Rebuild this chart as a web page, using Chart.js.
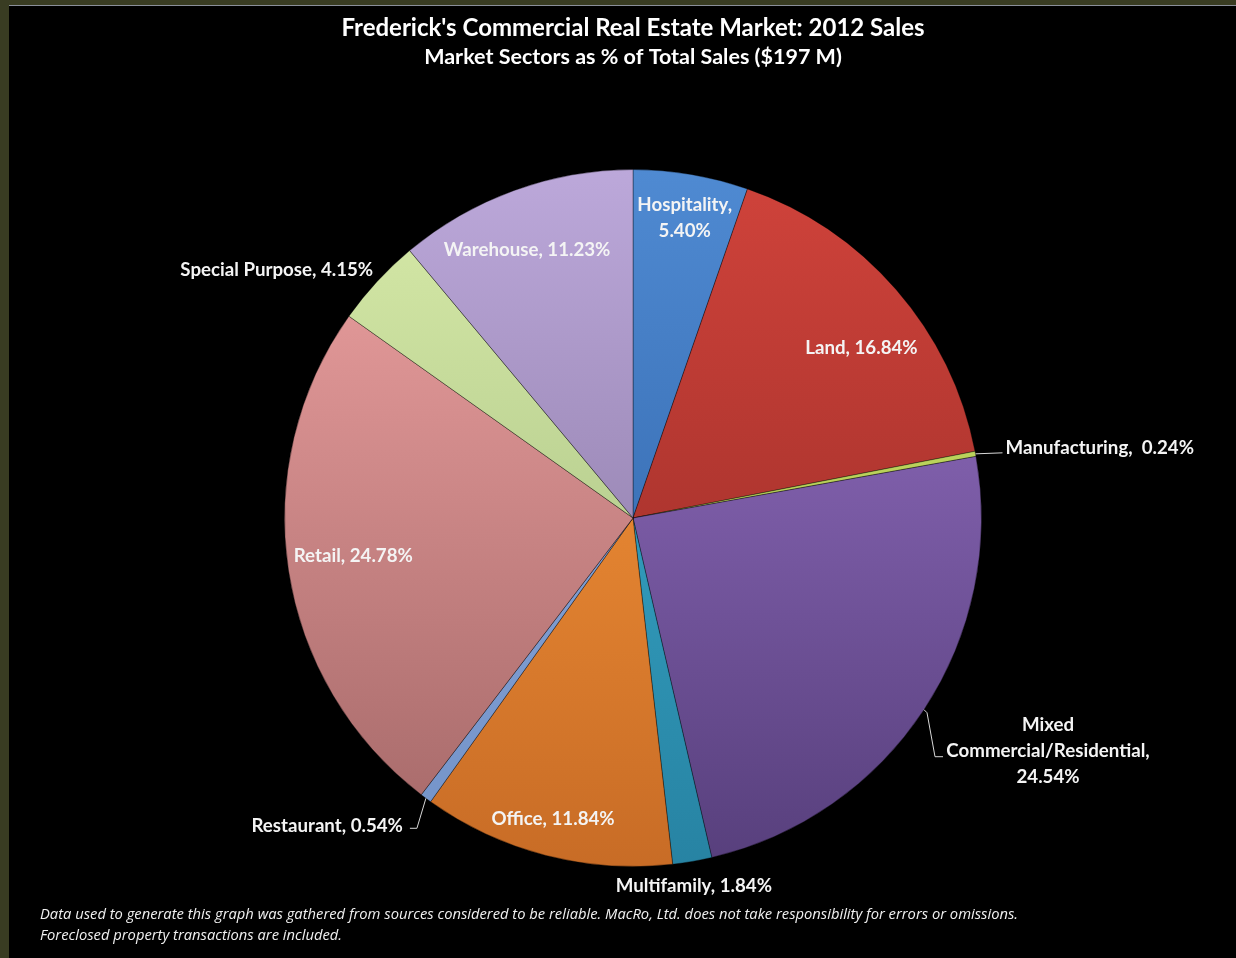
<!DOCTYPE html>
<html lang="en">
<head>
<meta charset="UTF-8">
<title>Frederick's Commercial Real Estate Market: 2012 Sales</title>
<script src="https://cdn.jsdelivr.net/npm/chart.js"></script>
<style>
  html, body { margin: 0; padding: 0; background: #393c22; }
  .frame {
    position: absolute; left: 9px; top: 5px; width: 1227px; height: 953px;
    background: #000; border-top: 1px solid #8a8f99; box-sizing: border-box;
  }
  .frame canvas { display: block; }
</style>
</head>
<body>
<div class="frame">
  <canvas id="pieCanvas" width="1227" height="952"></canvas>
</div>

<script>
// market sectors, clockwise from 12 o'clock
const sectors = ['Hospitality', 'Land', 'Manufacturing', 'Mixed Commercial/Residential', 'Multifamily',
                 'Office', 'Restaurant', 'Retail', 'Special Purpose', 'Warehouse'];
// share of total sales (%)
const sharePct = [5.40, 16.84, 0.24, 24.54, 1.84, 11.84, 0.54, 24.78, 4.15, 11.23];

const titleText = "Frederick's Commercial Real Estate Market: 2012 Sales";
const subtitleText = 'Market Sectors as % of Total Sales ($197 M)';
const footnoteLines = [
  'Data used to generate this graph was gathered from sources considered to be reliable. MacRo, Ltd. does not take responsibility for errors or omissions.',
  'Foreclosed property transactions are included.'
];

// light (top) / dark (bottom) shade for each slice
const lightColors = ['#4f8ad2', '#d0433b', '#c8df66', '#9a74ca', '#3cb2d2', '#ff9c3c', '#8eaade', '#f0a3a3', '#d8eba9', '#bca8da'];
const darkColors  = ['#2a5ca0', '#8e2823', '#a8c04c', '#573f7c', '#2783a3', '#c86c26', '#7393c8', '#a36767', '#9db77b', '#7e6d97'];

// how each label is broken into lines
const labelLines = [
  ['Hospitality,', '5.40%'],
  ['Land, 16.84%'],
  ['Manufacturing,  0.24%'],
  ['Mixed', 'Commercial/Residential,', '24.54%'],
  ['Multifamily, 1.84%'],
  ['Office, 11.84%'],
  ['Restaurant, 0.54%'],
  ['Retail, 24.78%'],
  ['Special Purpose, 4.15%'],
  ['Warehouse, 11.23%']
];

// label placement: r = fraction of radius, da = angle nudge (deg); leader labels use offsets from the slice edge
const labelPlace = [
  { r: 0.873, da: 0.2 },
  { r: 0.817, da: 4.3 },
  { leader: [[27, -1]], text: [30, -6], align: 'left' },
  { leader: [[3, 3], [11, 47], [19, 47]], text: [124, 41], align: 'center' },
  { r: 1.069, da: 0.4 },
  { r: 0.893, da: 0.4 },
  { leader: [[-9, 30], [-16, 30]], text: [-23, 28], align: 'right' },
  { r: 0.81, da: 0.9 },
  { r: 1.246, da: -7.9 },
  { r: 0.828, da: -1.6 }
];

function sliceFill(context) {
  const i = context.dataIndex;
  const area = context.chart.chartArea;
  if (!area) return lightColors[i];
  const g = context.chart.ctx.createLinearGradient(0, area.top, 0, area.bottom);
  g.addColorStop(0, lightColors[i]);
  g.addColorStop(1, darkColors[i]);
  return g;
}

const sliceLabels = {
  id: 'sliceLabels',
  afterDatasetsDraw(chart) {
    const ctx = chart.ctx;
    const meta = chart.getDatasetMeta(0);
    ctx.save();
    ctx.font = 'bold 18.7px Lato';
    ctx.fillStyle = '#f4f4f4';
    ctx.textBaseline = 'middle';
    const lineH = 26;
    meta.data.forEach(function (arc, i) {
      const p = arc.getProps(['x', 'y', 'startAngle', 'endAngle', 'outerRadius'], true);
      const mid = (p.startAngle + p.endAngle) / 2;
      const place = labelPlace[i];
      const lines = labelLines[i];
      let tx, ty;
      if (place.leader) {
        const ex = p.x + Math.cos(mid) * p.outerRadius;
        const ey = p.y + Math.sin(mid) * p.outerRadius;
        ctx.strokeStyle = '#d8d8d8';
        ctx.lineWidth = 1;
        ctx.beginPath();
        ctx.moveTo(ex, ey);
        place.leader.forEach(function (pt) { ctx.lineTo(ex + pt[0], ey + pt[1]); });
        ctx.stroke();
        tx = ex + place.text[0];
        ty = ey + place.text[1];
        ctx.textAlign = place.align;
      } else {
        const a = mid + place.da * Math.PI / 180;
        tx = p.x + Math.cos(a) * p.outerRadius * place.r;
        ty = p.y + Math.sin(a) * p.outerRadius * place.r;
        ctx.textAlign = 'center';
      }
      const y0 = ty - (lines.length - 1) * lineH / 2;
      lines.forEach(function (t, k) { ctx.fillText(t, tx, y0 + k * lineH); });
    });
    ctx.restore();
  }
};

const footnote = {
  id: 'footnote',
  afterDraw(chart) {
    const ctx = chart.ctx;
    ctx.save();
    ctx.font = 'italic 15px "Open Sans"';
    ctx.fillStyle = '#f0f0f0';
    ctx.textAlign = 'left';
    ctx.textBaseline = 'middle';
    ctx.fillText(footnoteLines[0], 31, 909, 978);
    ctx.fillText(footnoteLines[1], 31, 930, 302);
    ctx.restore();
  }
};

new Chart(document.getElementById('pieCanvas'), {
  type: 'pie',
  data: {
    labels: sectors,
    datasets: [{
      data: sharePct,
      backgroundColor: sliceFill,
      borderColor: 'rgba(0, 0, 0, 0.35)',
      borderWidth: 1
    }]
  },
  options: {
    responsive: false,
    animation: false,
    layout: { padding: { left: 100, right: 79, top: 0, bottom: 91 } },
    plugins: {
      legend: { display: false },
      tooltip: { enabled: false },
      title: {
        display: true,
        text: titleText,
        color: '#ffffff',
        font: { family: 'Lato', size: 24, weight: 'bold', lineHeight: 1.1 },
        padding: { top: 9, bottom: 4 }
      },
      subtitle: {
        display: true,
        text: subtitleText,
        color: '#ffffff',
        font: { family: 'Lato', size: 21.5, weight: 'bold', lineHeight: 1.1 },
        padding: { top: 0, bottom: 100 }
      }
    }
  },
  plugins: [sliceLabels, footnote]
});
</script>
</body>
</html>
